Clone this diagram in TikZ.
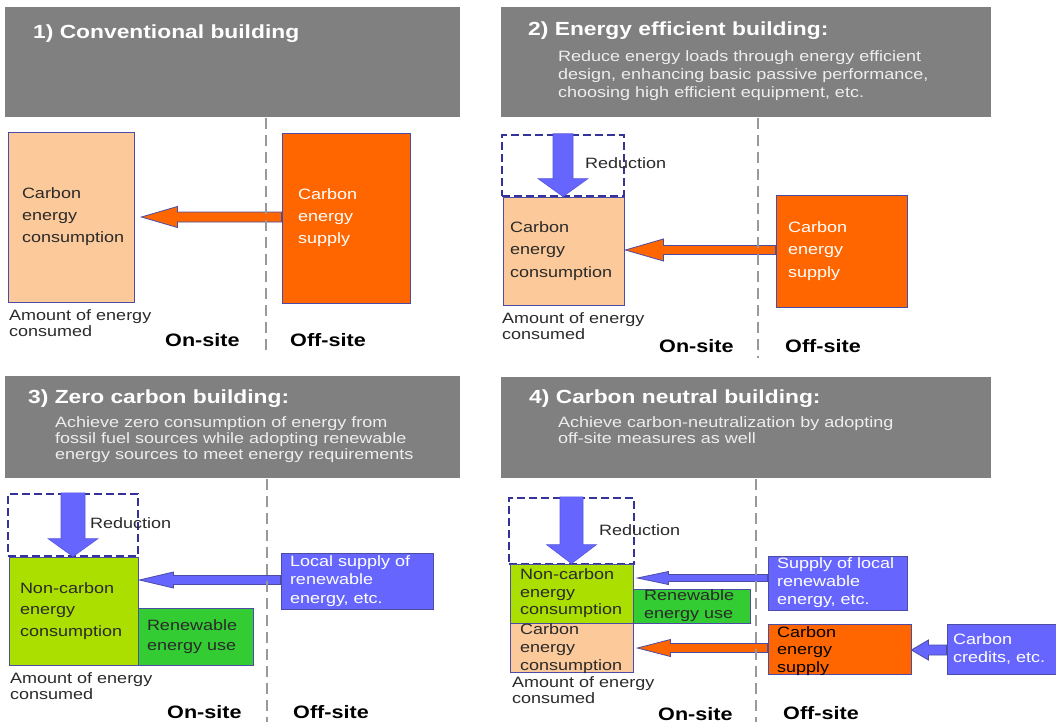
\documentclass[tikz,border=0pt]{standalone}
\usepackage{fontspec}
\setmainfont{Liberation Sans}[FakeStretch=1.2]
\usetikzlibrary{calc}

\definecolor{hdgray}{HTML}{808080}
\definecolor{subtxt}{HTML}{EEEEEE}
\definecolor{peach}{HTML}{FCCA9A}
\definecolor{orng}{HTML}{FF6600}
\definecolor{lav}{HTML}{6666FF}
\definecolor{lime}{HTML}{AADF00}
\definecolor{grn}{HTML}{33CC33}
\definecolor{edge}{HTML}{4C4CA6}
\definecolor{dashblue}{HTML}{33339A}
\definecolor{divgray}{HTML}{999999}
\definecolor{ink}{HTML}{2A2A2A}

% horizontal block arrow: style, source node, target node, y, gap, shaft half, head half, head length
\newcommand\harrow[8]{%
  \path[#1] let \p1=(#2.west), \p2=(#3.east) in
    (\x1,#4-#6) -- (\x2+#5+#8,#4-#6) -- (\x2+#5+#8,#4-#7) -- (\x2+#5,#4)
    -- (\x2+#5+#8,#4+#7) -- (\x2+#5+#8,#4+#6) -- (\x1,#4+#6) -- cycle;}
% downward block arrow: style, upper node, lower node, shaft half, head half, head length
\newcommand\varrow[6]{%
  \path[#1] let \p1=(#2.north), \p2=(#3.north) in
    (\x1-#4,\y1) -- (\x1-#4,\y2+#6) -- (\x1-#5,\y2+#6) -- (\x1,\y2)
    -- (\x1+#5,\y2+#6) -- (\x1+#4,\y2+#6) -- (\x1+#4,\y1) -- cycle;}

\begin{document}
\begin{tikzpicture}[x=1pt,y=-1pt,
  header/.style={fill=hdgray,draw=none,anchor=north west,inner sep=0pt},
  ttl/.style={anchor=base west,inner sep=0pt,text=white,font=\bfseries\fontsize{19}{22}\selectfont},
  subt/.style={anchor=base west,inner sep=0pt,text=subtxt,text width=430pt,align=left,
    font=\fontsize{15}{#1}\selectfont},
  box/.style={draw=edge,line width=0.8pt,inner ysep=0pt,align=left},
  btxt/.style={font=\fontsize{15}{#1}\selectfont},
  lbl/.style={anchor=base west,inner sep=0pt,text=ink,text width=200pt,align=left,
    font=\fontsize{15}{16.5}\selectfont},
  site/.style={anchor=base west,inner sep=0pt,text=black,font=\bfseries\fontsize{18}{20}\selectfont},
  redbox/.style={draw=dashblue,line width=2.4pt,dash pattern=on 8pt off 4pt,inner sep=0pt},
  oarrow/.style={fill=orng,draw=edge,line width=0.8pt},
  barrow/.style={fill=lav,draw=edge,line width=0.8pt},
  rarrow/.style={fill=lav,draw=lav!85!black,line width=0.6pt},
  divider/.style={draw=divgray,line width=2.6pt,dash pattern=on 11pt off 6pt},
]
\useasboundingbox (0,0) rectangle (1056,722);

% ---------- headers ----------
\node[header,minimum width=455pt,minimum height=110pt] (h1) at (5,7) {};
\node[header,minimum width=490pt,minimum height=110pt] (h2) at (501,7) {};
\node[header,minimum width=455pt,minimum height=102pt] (h3) at (5,376) {};
\node[header,minimum width=490pt,minimum height=101pt] (h4) at (501,377) {};

\node[ttl] (t1) at (33,39) {1) Conventional building};
\node[ttl] (t2) at (528,36) {2) Energy efficient building:};
\node[subt=18pt] (s2) at (558,62) {Reduce energy loads through energy efficient\\design, enhancing basic passive performance,\\choosing high efficient equipment, etc.};
\node[ttl] (t3) at (28,403) {3) Zero carbon building:};
\node[subt=16pt] (s3) at (55,427) {Achieve zero consumption of energy from\\fossil fuel sources while adopting renewable\\energy sources to meet energy requirements};
\node[ttl] (t4) at (529,403) {4) Carbon neutral building:};
\node[subt=16pt] (s4) at (558,427) {Achieve carbon-neutralization by adopting\\off-site measures as well};

% ---------- 1) conventional building ----------
\node[box,fill=peach,text=ink,btxt=22pt,minimum width=126pt,minimum height=170pt,text width=98pt,inner xsep=14pt]
  (cons1) at (71,217) {Carbon\\energy\\consumption};
\node[box,fill=orng,text=white,btxt=22pt,minimum width=128pt,minimum height=170pt,text width=96pt,inner xsep=16pt]
  (sup1) at (346,218) {Carbon\\energy\\supply};
\harrow{oarrow}{sup1}{cons1}{217}{7}{5}{10.5}{36}
\node[lbl] (am1) at (9,320) {Amount of energy\\consumed};
\node[site] (on1) at (165,346) {On-site};
\node[site] (off1) at (290,346) {Off-site};
\draw[divider] (266,118) -- (266,350);

% ---------- 2) energy efficient building ----------
\node[redbox,minimum width=122pt,minimum height=61pt] (rbox2) at (563,165.5) {};
\node[box,fill=peach,text=ink,btxt=22.5pt,minimum width=121pt,minimum height=108pt,text width=107pt,inner xsep=7pt]
  (cons2) at (563.5,251) {Carbon\\energy\\consumption};
\node[box,fill=orng,text=white,btxt=22.5pt,minimum width=131pt,minimum height=112pt,text width=107pt,inner xsep=12pt]
  (sup2) at (841.5,251) {Carbon\\energy\\supply};
\varrow{rarrow}{rbox2}{cons2}{10}{25}{18}
\harrow{oarrow}{sup2}{cons2}{250}{1}{4.5}{11}{38}
\node[lbl] (red2) at (585,168) {Reduction};
\node[lbl] (am2) at (502,323) {Amount of energy\\consumed};
\node[site] (on2) at (659,352) {On-site};
\node[site] (off2) at (785,352) {Off-site};
\draw[divider] (758,118) -- (758,358);

% ---------- 3) zero carbon building ----------
\node[redbox,minimum width=130pt,minimum height=62pt] (rbox3) at (73,525) {};
\node[box,fill=lime,text=ink,btxt=21.5pt,minimum width=129pt,minimum height=108pt,text width=107pt,inner xsep=11pt]
  (nc3) at (73.5,611) {Non-carbon\\energy\\consumption};
\node[box,fill=grn,text=ink,btxt=20pt,minimum width=115pt,minimum height=57pt,text width=97pt,inner xsep=9pt]
  (ren3) at (195.5,636.5) {Renewable\\energy use};
\node[box,fill=lav,text=white,btxt=18.5pt,minimum width=152pt,minimum height=56pt,text width=134pt,inner xsep=9pt]
  (loc3) at (357,581) {Local supply of\\renewable\\energy, etc.};
\varrow{rarrow}{rbox3}{nc3}{12}{25}{18}
\harrow{barrow}{loc3}{nc3}{580}{1}{4.5}{8}{34}
\node[lbl] (red3) at (90,528) {Reduction};
\node[lbl] (am3) at (10,683) {Amount of energy\\consumed};
\node[site] (on3) at (167,718) {On-site};
\node[site] (off3) at (293,718) {Off-site};
\draw[divider] (267,479) -- (267,722);

% ---------- 4) carbon neutral building ----------
\node[redbox,minimum width=125pt,minimum height=66pt] (rbox4) at (571.5,531) {};
\node[box,fill=lime,text=ink,btxt=17.5pt,minimum width=123pt,minimum height=59pt,text width=103pt,inner xsep=10pt]
  (nc4) at (571.5,593.5) {Non-carbon\\energy\\consumption};
\node[box,fill=grn,text=ink,btxt=18pt,minimum width=117pt,minimum height=34pt,text width=95pt,inner xsep=11pt]
  (ren4) at (691.5,606) {Renewable\\energy use};
\node[box,fill=peach,minimum width=123pt,minimum height=49pt] (cc4) at (571.5,647.5) {};
\node[lbl,btxt=18pt] (cc4t) at (520,634) {Carbon\\energy\\consumption};
\node[box,fill=lav,text=white,btxt=18pt,minimum width=139pt,minimum height=54pt,text width=121pt,inner xsep=9pt]
  (loc4) at (837.5,583) {Supply of local\\renewable\\energy, etc.};
\node[box,fill=orng,minimum width=143pt,minimum height=50pt] (sup4) at (839.5,649) {};
\node[lbl,text=black,btxt=17.5pt] (sup4t) at (777,637) {Carbon\\energy\\supply};
\node[box,fill=lav,text=white,btxt=18pt,minimum width=109pt,minimum height=50pt,text width=97pt,inner xsep=6pt]
  (cred4) at (1001.5,649) {Carbon\\credits, etc.};
\varrow{rarrow}{rbox4}{nc4}{11.5}{25}{19}
\harrow{barrow}{loc4}{nc4}{578}{4}{3.5}{6.5}{31}
\harrow{oarrow}{sup4}{cc4}{648}{4}{4.5}{8.5}{33}
\harrow{barrow}{cred4}{sup4}{650}{0}{5}{10}{17}
\node[lbl] (red4) at (599,535) {Reduction};
\node[lbl] (am4) at (512,687) {Amount of energy\\consumed};
\node[site] (on4) at (658,720) {On-site};
\node[site] (off4) at (783,719) {Off-site};
\draw[divider] (756,479) -- (756,722);
\end{tikzpicture}
\end{document}
